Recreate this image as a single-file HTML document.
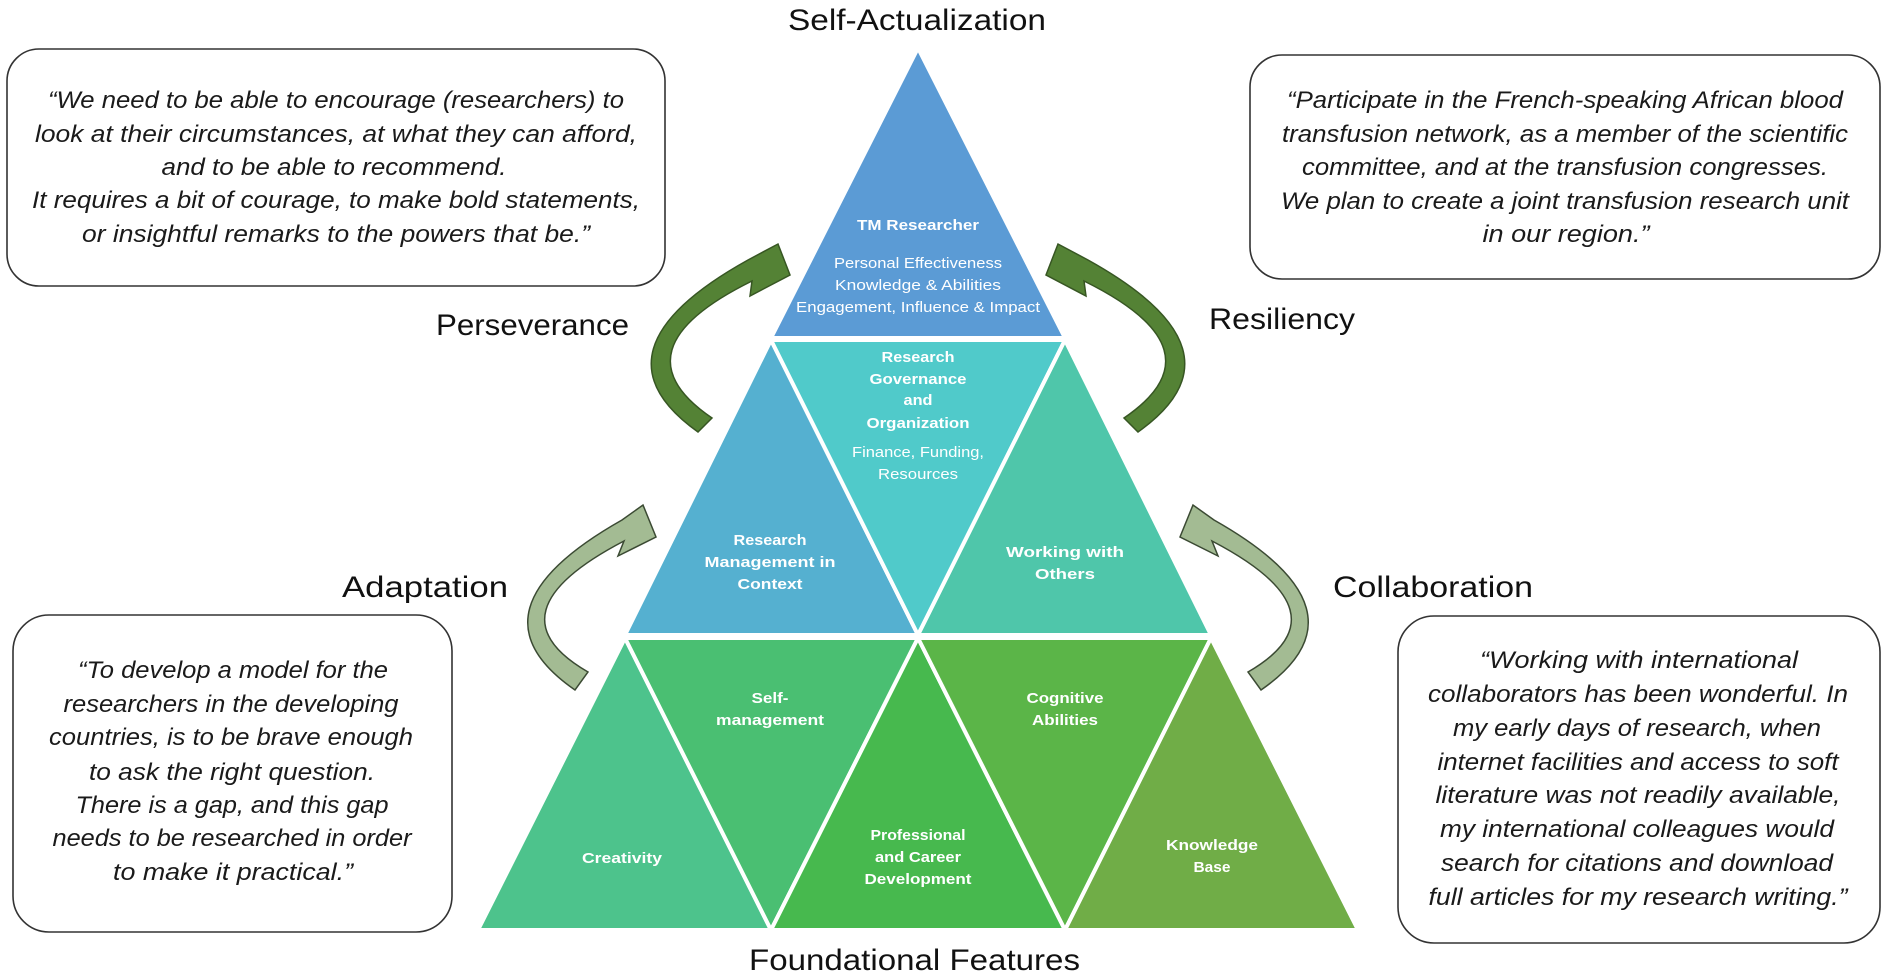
<!DOCTYPE html>
<html><head><meta charset="utf-8"><style>
html,body{margin:0;padding:0;background:#fff;}
svg{display:block;}
.q{font-family:"Liberation Sans",sans-serif;font-style:italic;font-size:24px;fill:#1a1a1a;}
.h{font-family:"Liberation Sans",sans-serif;font-size:30px;fill:#111;}
.b{font-family:"Liberation Sans",sans-serif;font-weight:bold;font-size:15px;fill:#fff;}
.n{font-family:"Liberation Sans",sans-serif;font-size:15px;fill:#fff;}
</style></head><body>
<svg width="1888" height="976" viewBox="0 0 1888 976" xmlns="http://www.w3.org/2000/svg">
<g stroke="#fff" stroke-width="4" stroke-linejoin="miter">
<polygon points="918,48 1065,338 771,338" fill="#5b9bd5"/>
<polygon points="771,340 625,635 918,635" fill="#55b0d0"/>
<polygon points="771,340 1065,340 918,635" fill="#50caca"/>
<polygon points="1065,340 918,635 1211,635" fill="#4fc6aa"/>
<polygon points="625,638 478,930 771,930" fill="#4dc38c"/>
<polygon points="625,638 918,638 771,930" fill="#4abf72"/>
<polygon points="918,638 771,930 1065,930" fill="#47b94e"/>
<polygon points="918,638 1211,638 1065,930" fill="#5bb548"/>
<polygon points="1211,638 1065,930 1358,930" fill="#70ad47"/>
</g>
<!-- arrows -->
<path d="M698,432 Q584,351 748,260 L778,244 L790,275 L750,296 L752,281 Q612,350 712,418 Z" fill="#548235" stroke="#375623" stroke-width="1.5"/>
<path transform="translate(1836,0) scale(-1,1)" d="M698,432 Q584,351 748,260 L778,244 L790,275 L750,296 L752,281 Q612,350 712,418 Z" fill="#548235" stroke="#375623" stroke-width="1.5"/>
<path d="M575,690 Q461,611 622,520 L643,505 L656,537 L618,556 L624,541 Q486,613 588,672 Z" fill="#a3bb93" stroke="#3b4a33" stroke-width="1.5"/>
<path transform="translate(1836,0) scale(-1,1)" d="M575,690 Q461,611 622,520 L643,505 L656,537 L618,556 L624,541 Q486,613 588,672 Z" fill="#a3bb93" stroke="#3b4a33" stroke-width="1.5"/>
<!-- boxes -->
<g fill="none" stroke="#333" stroke-width="1.6">
<rect x="7" y="49" width="658" height="237" rx="32"/>
<rect x="1250" y="55" width="630" height="224" rx="32"/>
<rect x="13" y="615" width="439" height="317" rx="36"/>
<rect x="1398" y="616" width="482" height="327" rx="36"/>
</g>
<!-- headings -->
<g class="h">
<text x="788" y="30" textLength="258" lengthAdjust="spacingAndGlyphs">Self-Actualization</text>
<text x="436" y="335" textLength="193" lengthAdjust="spacingAndGlyphs">Perseverance</text>
<text x="1209" y="329" textLength="146" lengthAdjust="spacingAndGlyphs">Resiliency</text>
<text x="342" y="597" textLength="166" lengthAdjust="spacingAndGlyphs">Adaptation</text>
<text x="1333" y="597" textLength="200" lengthAdjust="spacingAndGlyphs">Collaboration</text>
<text x="749" y="970" textLength="331" lengthAdjust="spacingAndGlyphs">Foundational Features</text>
</g>
<!-- quotes -->
<g class="q" text-anchor="middle">
<text x="336" y="108" textLength="576" lengthAdjust="spacingAndGlyphs">“We need to be able to encourage (researchers) to</text>
<text x="336" y="142" textLength="602" lengthAdjust="spacingAndGlyphs">look at their circumstances, at what they can afford,</text>
<text x="334" y="175" textLength="345" lengthAdjust="spacingAndGlyphs">and to be able to recommend.</text>
<text x="336" y="208" textLength="608" lengthAdjust="spacingAndGlyphs">It requires a bit of courage, to make bold statements,</text>
<text x="336" y="242" textLength="508" lengthAdjust="spacingAndGlyphs">or insightful remarks to the powers that be.”</text>

<text x="1565" y="108" textLength="556" lengthAdjust="spacingAndGlyphs">“Participate in the French-speaking African blood</text>
<text x="1565" y="142" textLength="566" lengthAdjust="spacingAndGlyphs">transfusion network, as a member of the scientific</text>
<text x="1565" y="175" textLength="526" lengthAdjust="spacingAndGlyphs">committee, and at the transfusion congresses.</text>
<text x="1565" y="209" textLength="568" lengthAdjust="spacingAndGlyphs">We plan to create a joint transfusion research unit</text>
<text x="1566" y="242" textLength="167" lengthAdjust="spacingAndGlyphs">in our region.”</text>

<text x="233" y="678" textLength="310" lengthAdjust="spacingAndGlyphs">“To develop a model for the</text>
<text x="231" y="712" textLength="335" lengthAdjust="spacingAndGlyphs">researchers in the developing</text>
<text x="231" y="745" textLength="364" lengthAdjust="spacingAndGlyphs">countries, is to be brave enough</text>
<text x="232" y="780" textLength="286" lengthAdjust="spacingAndGlyphs">to ask the right question.</text>
<text x="232" y="813" textLength="313" lengthAdjust="spacingAndGlyphs">There is a gap, and this gap</text>
<text x="232" y="846" textLength="359" lengthAdjust="spacingAndGlyphs">needs to be researched in order</text>
<text x="233" y="880" textLength="240" lengthAdjust="spacingAndGlyphs">to make it practical.”</text>

<text x="1639" y="668" textLength="318" lengthAdjust="spacingAndGlyphs">“Working with international</text>
<text x="1638" y="702" textLength="420" lengthAdjust="spacingAndGlyphs">collaborators has been wonderful. In</text>
<text x="1637" y="736" textLength="368" lengthAdjust="spacingAndGlyphs">my early days of research, when</text>
<text x="1638" y="770" textLength="401" lengthAdjust="spacingAndGlyphs">internet facilities and access to soft</text>
<text x="1638" y="803" textLength="405" lengthAdjust="spacingAndGlyphs">literature was not readily available,</text>
<text x="1637" y="837" textLength="394" lengthAdjust="spacingAndGlyphs">my international colleagues would</text>
<text x="1637" y="871" textLength="392" lengthAdjust="spacingAndGlyphs">search for citations and download</text>
<text x="1638" y="905" textLength="419" lengthAdjust="spacingAndGlyphs">full articles for my research writing.”</text>
</g>
<!-- pyramid labels -->
<g text-anchor="middle">
<text class="b" x="918" y="230" textLength="122" lengthAdjust="spacingAndGlyphs">TM Researcher</text>
<text class="n" x="918" y="268" textLength="168" lengthAdjust="spacingAndGlyphs">Personal Effectiveness</text>
<text class="n" x="918" y="290" textLength="166" lengthAdjust="spacingAndGlyphs">Knowledge &amp; Abilities</text>
<text class="n" x="918" y="312" textLength="244" lengthAdjust="spacingAndGlyphs">Engagement, Influence &amp; Impact</text>

<text class="b" x="918" y="362" textLength="73" lengthAdjust="spacingAndGlyphs">Research</text>
<text class="b" x="918" y="384" textLength="97" lengthAdjust="spacingAndGlyphs">Governance</text>
<text class="b" x="918" y="405" textLength="29" lengthAdjust="spacingAndGlyphs">and</text>
<text class="b" x="918" y="428" textLength="103" lengthAdjust="spacingAndGlyphs">Organization</text>
<text class="n" x="918" y="457" textLength="132" lengthAdjust="spacingAndGlyphs">Finance, Funding,</text>
<text class="n" x="918" y="479" textLength="80" lengthAdjust="spacingAndGlyphs">Resources</text>

<text class="b" x="770" y="545" textLength="73" lengthAdjust="spacingAndGlyphs">Research</text>
<text class="b" x="770" y="567" textLength="131" lengthAdjust="spacingAndGlyphs">Management in</text>
<text class="b" x="770" y="589" textLength="65" lengthAdjust="spacingAndGlyphs">Context</text>

<text class="b" x="1065" y="557" textLength="118" lengthAdjust="spacingAndGlyphs">Working with</text>
<text class="b" x="1065" y="579" textLength="60" lengthAdjust="spacingAndGlyphs">Others</text>

<text class="b" x="770" y="703" textLength="37" lengthAdjust="spacingAndGlyphs">Self-</text>
<text class="b" x="770" y="725" textLength="108" lengthAdjust="spacingAndGlyphs">management</text>
<text class="b" x="622" y="863" textLength="80" lengthAdjust="spacingAndGlyphs">Creativity</text>
<text class="b" x="918" y="840" textLength="95" lengthAdjust="spacingAndGlyphs">Professional</text>
<text class="b" x="918" y="862" textLength="86" lengthAdjust="spacingAndGlyphs">and Career</text>
<text class="b" x="918" y="884" textLength="107" lengthAdjust="spacingAndGlyphs">Development</text>
<text class="b" x="1065" y="703" textLength="77" lengthAdjust="spacingAndGlyphs">Cognitive</text>
<text class="b" x="1065" y="725" textLength="66" lengthAdjust="spacingAndGlyphs">Abilities</text>
<text class="b" x="1212" y="850" textLength="92" lengthAdjust="spacingAndGlyphs">Knowledge</text>
<text class="b" x="1212" y="872" textLength="37" lengthAdjust="spacingAndGlyphs">Base</text>
</g>
</svg>
</body></html>
